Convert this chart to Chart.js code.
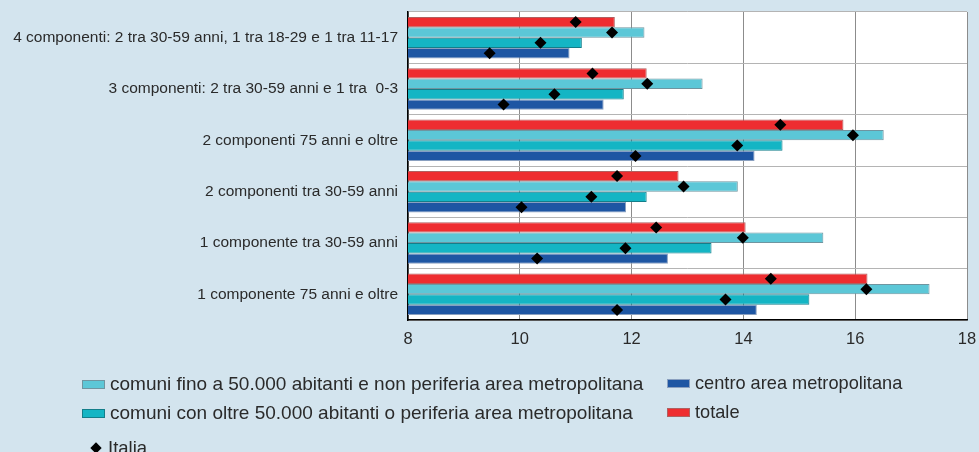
<!DOCTYPE html>
<html lang="it">
<head>
<meta charset="utf-8">
<script src="https://cdn.jsdelivr.net/npm/chart.js@4/dist/chart.umd.min.js"></script>
<style>
  html, body { margin:0; padding:0; background:#d3e4ee; overflow:hidden; }
  #wrap { position:relative; width:979px; height:452px; }
  #legend { position:absolute; left:0; top:0; width:979px; height:452px; pointer-events:none;
    font-family:"Liberation Sans", Arial, sans-serif; font-size:18.5px; color:#2a2a2a; }
  .item { position:absolute; display:flex; align-items:center; white-space:nowrap; }
  .box { width:21px; height:7px; margin-right:5px; border:1px solid; }
  .diamond { width:8px; height:8px; background:#000; transform:rotate(45deg); margin:0 8px 0 14px; }
</style>
</head>
<body>
<div id="wrap">
  <canvas id="chart" width="979" height="452"></canvas>
  <div id="legend"></div>
</div>
<script>
const categorie = [
  '4 componenti: 2 tra 30-59 anni, 1 tra 18-29 e 1 tra 11-17',
  '3 componenti: 2 tra 30-59 anni e 1 tra  0-3',
  '2 componenti 75 anni e oltre',
  '2 componenti tra 30-59 anni',
  '1 componente tra 30-59 anni',
  '1 componente 75 anni e oltre'
]

// barre (righe dall'alto: totale, fino a 50.000, oltre 50.000, centro)
const totale = [11.70, 12.27, 15.79, 12.84, 14.04, 16.22]
const comuniFino = [12.23, 13.27, 16.51, 13.90, 15.43, 17.33]
const comuniOltre = [11.11, 11.86, 14.70, 12.27, 13.43, 15.18]
const centroArea = [10.89, 11.50, 14.20, 11.90, 12.65, 14.24]

// rombi Italia, uno per barra
const italiaTotale = [11.00, 11.30, 14.66, 11.74, 12.44, 14.49]
const italiaFino = [11.65, 12.28, 15.96, 12.93, 13.99, 16.20]
const italiaOltre = [10.37, 10.62, 13.89, 11.28, 11.89, 13.68]
const italiaCentro = [9.46, 9.71, 12.07, 10.03, 10.31, 11.74]

const xTicks = [8, 10, 12, 14, 16, 18]

const serie = [
  { label:'totale', data: totale, italia: italiaTotale, bg:'#ee2d30', border:'#b06060' },
  { label:'comuni fino a 50.000 abitanti e non periferia area metropolitana', data: comuniFino, italia: italiaFino, bg:'#5cc7d7', border:'#6f95a0' },
  { label:'comuni con oltre 50.000 abitanti o periferia area metropolitana', data: comuniOltre, italia: italiaOltre, bg:'#14b5c4', border:'#137e8a' },
  { label:'centro area metropolitana', data: centroArea, italia: italiaCentro, bg:'#1e56a3', border:'#8aa0c0' }
]

const diamondsPlugin = {
  id: 'italiaDiamonds',
  afterDatasetsDraw(chart) {
    const ctx = chart.ctx
    const xs = chart.scales.x
    ctx.save()
    ctx.fillStyle = '#000'
    serie.forEach((s, d) => {
      const meta = chart.getDatasetMeta(d)
      meta.data.forEach((bar, i) => {
        const x = xs.getPixelForValue(s.italia[i])
        const y = bar.y
        const r = 6
        ctx.beginPath()
        ctx.moveTo(x, y - r); ctx.lineTo(x + r, y); ctx.lineTo(x, y + r); ctx.lineTo(x - r, y)
        ctx.closePath(); ctx.fill()
      })
    })
    ctx.restore()
  }
}

const plotBg = {
  id: 'plotBg',
  beforeDraw(chart) {
    const { ctx, chartArea: a } = chart
    ctx.save(); ctx.fillStyle = '#fff'
    ctx.fillRect(a.left, a.top, a.right - a.left, a.bottom - a.top)
    ctx.restore()
  }
}

new Chart(document.getElementById('chart'), {
  type: 'bar',
  data: {
    labels: categorie,
    datasets: serie.map(s => ({
      label: s.label, data: s.data, backgroundColor: s.bg, borderColor: s.border,
      borderWidth: 1, borderSkipped: false, categoryPercentage: 0.81, barPercentage: 1
    }))
  },
  options: {
    indexAxis: 'y', responsive: false, animation: false,
    layout: { padding: { top: 12, right: 12, left: 0, bottom: 0 } },
    plugins: { legend: { display: false }, tooltip: { enabled: false } },
    scales: {
      x: {
        min: 8, max: 18,
        afterBuildTicks: s => { s.ticks = xTicks.map(v => ({ value: v })) },
        afterFit: s => { s.height = 132; s.paddingLeft = 0; s.paddingRight = 0 },
        grid: { color: '#8c8c8c', lineWidth: 1, drawTicks: false },
        border: { color: '#000', width: 1.5 },
        ticks: { padding: 10, color: '#2a2a2a', font: { family: 'Liberation Sans', size: 16.5 } }
      },
      y: {
        afterFit: s => { s.width = 408; s.paddingTop = 0; s.paddingBottom = 0 },
        grid: { color: '#b4b4b4', lineWidth: 1, drawTicks: false, offset: true },
        border: { color: '#000', width: 1.5 },
        ticks: { padding: 10, color: '#2a2a2a', font: { family: 'Liberation Sans', size: 15.5 } }
      }
    }
  },
  plugins: [plotBg, diamondsPlugin]
})

// legenda
const legend = document.getElementById('legend')
const legendItems = [
  { s: serie[1], x: 82, y: 384, size: 19 },
  { s: serie[2], x: 82, y: 413, size: 19 },
  { s: serie[3], x: 667, y: 384, size: 18.2 },
  { s: serie[0], x: 667, y: 413, size: 18.2 }
]
legendItems.forEach(it => {
  const el = document.createElement('div')
  el.className = 'item'
  el.style.left = it.x + 'px'
  el.style.top = (it.y - 11) + 'px'
  el.style.fontSize = it.size + 'px'
  el.innerHTML = `<span class="box" style="background:${it.s.bg};border-color:${it.s.border}"></span><span>${it.s.label}</span>`
  legend.appendChild(el)
})
const it = document.createElement('div')
it.className = 'item'
it.style.left = '78px'
it.style.top = '437px'
it.innerHTML = '<span class="diamond"></span><span>Italia</span>'
legend.appendChild(it)
</script>
</body>
</html>
